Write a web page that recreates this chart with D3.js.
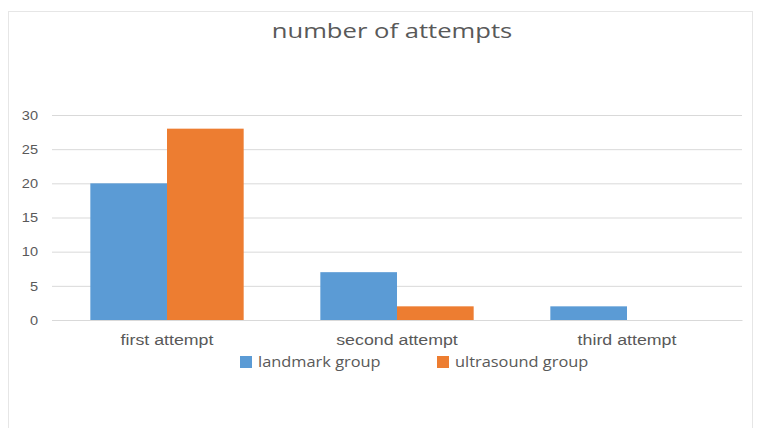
<!DOCTYPE html>
<html>
<head>
<meta charset="utf-8">
<script src="https://cdn.jsdelivr.net/npm/d3@7"></script>
<style>
  body { margin: 0; background: #fff; }
  svg { font-family: "Open Sans", "Noto Sans", sans-serif; }
</style>
</head>
<body>
<svg id="chart" width="762" height="428"></svg>
<script>
const categories = ['first attempt', 'second attempt', 'third attempt'];
const seriesNames = ['landmark group', 'ultrasound group'];
const landmark = [20, 7, 2];
const ultrasound = [28, 2, 0];
const yTicks = [0, 5, 10, 15, 20, 25, 30];

const colors = ['#5b9bd5', '#ed7d31'];
const svg = d3.select('#chart');

// the source text is wide (stretched), widen ours to match
function stretch(sel, k) {
  sel.each(function() {
    const w = this.getComputedTextLength();
    d3.select(this).attr('textLength', w * k).attr('lengthAdjust', 'spacingAndGlyphs');
  });
}

// chart frame
svg.append('rect')
  .attr('x', 8.5).attr('y', 11.5)
  .attr('width', 744).attr('height', 420)
  .attr('fill', '#fff')
  .attr('stroke', '#e6e6e6');

const margin = { left: 52, right: 20, top: 115, bottom: 108 };
const width = 762 - margin.left - margin.right;
const height = 428 - margin.top - margin.bottom;
const g = svg.append('g').attr('transform', `translate(${margin.left},${margin.top})`);

const x0 = d3.scaleBand().domain(categories).range([0, width]).paddingInner(0).paddingOuter(0);
const x1 = d3.scaleBand().domain(seriesNames).range([0, x0.bandwidth()]).paddingInner(0).paddingOuter(0.5);
const y = d3.scaleLinear().domain([0, 30]).range([height, 0]);

// grid
g.append('g')
  .call(d3.axisLeft(y).tickValues(yTicks).tickSize(-width).tickFormat(''))
  .call(s => s.select('.domain').remove())
  .selectAll('line').attr('stroke', '#d9d9d9');

// y labels
g.append('g')
  .call(d3.axisLeft(y).tickValues(yTicks).tickSize(0).tickPadding(14))
  .call(s => s.select('.domain').remove())
  .selectAll('text')
  .attr('fill', '#595959')
  .style('font-size', '13px')
  .call(stretch, 1.12);

// bars
const data = categories.map((c, i) => ({ cat: c, values: [landmark[i], ultrasound[i]] }));
const groups = g.selectAll('.grp').data(data).enter().append('g')
  .attr('transform', d => `translate(${x0(d.cat)},0)`);
groups.selectAll('rect')
  .data(d => d.values.map((v, j) => ({ name: seriesNames[j], v, j })))
  .enter().append('rect')
  .attr('x', d => x1(d.name))
  .attr('y', d => y(d.v))
  .attr('width', x1.bandwidth())
  .attr('height', d => y(0) - y(d.v))
  .attr('fill', d => colors[d.j]);

// x labels
g.append('g')
  .attr('transform', `translate(0,${height})`)
  .call(d3.axisBottom(x0).tickSize(0).tickPadding(15))
  .call(s => s.select('.domain').attr('stroke', '#d9d9d9'))
  .selectAll('text')
  .attr('fill', '#595959')
  .style('font-size', '14px')
  .call(stretch, 1.27);

// title
svg.append('text')
  .attr('x', 392).attr('y', 38)
  .attr('text-anchor', 'middle')
  .attr('fill', '#595959')
  .style('font-size', '20px')
  .text('number of attempts')
  .call(stretch, 1.28);

// legend
const legendX = [240, 437];
const legend = svg.append('g');
seriesNames.forEach((n, i) => {
  legend.append('rect')
    .attr('x', legendX[i]).attr('y', 356)
    .attr('width', 12).attr('height', 12)
    .attr('fill', colors[i]);
  legend.append('text')
    .attr('x', legendX[i] + 18).attr('y', 367)
    .attr('fill', '#595959')
    .style('font-size', '14px')
    .text(n)
    .call(stretch, 1.17);
});
</script>
</body>
</html>
